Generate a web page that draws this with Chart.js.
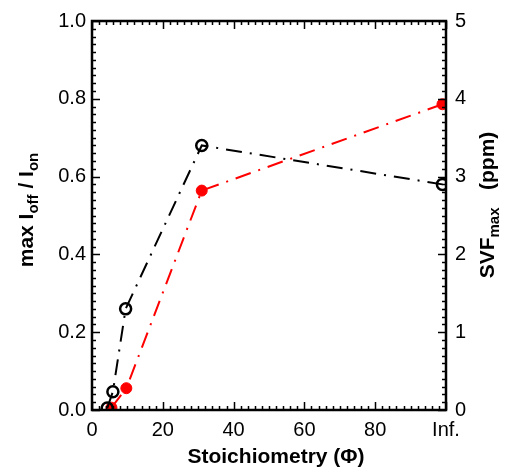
<!DOCTYPE html>
<html><head><meta charset="utf-8">
<script src="https://cdn.jsdelivr.net/npm/chart.js@4"></script>
<style>html,body{margin:0;padding:0;background:#fff}#wrap{width:507px;height:474px}</style>
</head><body><div id="wrap"><canvas id="c" width="507" height="474"></canvas></div>
<script>
const xTicks = [0, 20, 40, 60, 80, 100];
const xTickLabels = ['0', '20', '40', '60', '80', 'Inf.'];
const ratioX = [4.3, 5.9, 9.5, 31, 99];
const ratioY = [0.005, 0.047, 0.26, 0.68, 0.58];
const svfX = [5.5, 9.7, 31, 99];
const svfY = [0.03, 0.28, 2.82, 3.93];

const FONT = '"Liberation Sans", Arial, sans-serif';

const ticksPlugin = {
  id: 'inwardTicks',
  afterDraw(chart) {
    const ctx = chart.ctx, a = chart.chartArea;
    const xs = chart.scales.x, yl = chart.scales.y, yr = chart.scales.y2;
    ctx.save();
    ctx.strokeStyle = '#000';
    ctx.lineWidth = 1.5;
    for (let i = 0; i <= 50; i++) {
      const v = i * 2;
      const px = Math.round(xs.getPixelForValue(v)) + 0.5;
      const len = (i % 10 === 0) ? 8 : 4;
      ctx.beginPath();
      ctx.moveTo(px, a.bottom); ctx.lineTo(px, a.bottom - len);
      ctx.moveTo(px, a.top); ctx.lineTo(px, a.top + len);
      ctx.stroke();
    }
    for (let i = 0; i <= 50; i++) {
      const v = i * 0.02;
      const py = Math.round(yl.getPixelForValue(v)) + 0.5;
      const len = (i % 10 === 0) ? 8 : 4;
      ctx.beginPath(); ctx.moveTo(a.left, py); ctx.lineTo(a.left + len, py); ctx.stroke();
    }
    for (let i = 0; i <= 50; i++) {
      const v = i * 0.1;
      const py = Math.round(yr.getPixelForValue(v)) + 0.5;
      const len = (i % 10 === 0) ? 8 : 4;
      ctx.beginPath(); ctx.moveTo(a.right, py); ctx.lineTo(a.right - len, py); ctx.stroke();
    }
    ctx.lineWidth = 2.5;
    ctx.strokeRect(a.left, a.top, a.right - a.left, a.bottom - a.top);

    ctx.fillStyle = '#000';
    function drawParts(parts, cx, cy) {
      ctx.save();
      ctx.translate(cx, cy);
      ctx.rotate(-Math.PI / 2);
      const f = p => p.sub ? 'bold 15px ' + FONT : 'bold 21px ' + FONT;
      let w = 0;
      parts.forEach(p => { ctx.font = f(p); w += ctx.measureText(p.t).width; });
      let x = -w / 2;
      ctx.textBaseline = 'middle';
      parts.forEach(p => {
        ctx.font = f(p);
        ctx.fillText(p.t, x, p.sub ? 7 : 0);
        x += ctx.measureText(p.t).width;
      });
      ctx.restore();
    }
    drawParts([{t:'max I'},{t:'off',sub:true},{t:' / I'},{t:'on',sub:true}], 27, 210);
    drawParts([{t:'SVF'},{t:'max',sub:true},{t:'   (ppm)'}], 488, 205);
    ctx.font = 'bold 21px ' + FONT;
    ctx.textAlign = 'center'; ctx.textBaseline = 'middle';
    ctx.fillText('Stoichiometry (\u03A6)', (a.left + a.right) / 2 + 7, 457);
    ctx.restore();
  }
};

new Chart(document.getElementById('c'), {
  type: 'scatter',
  data: {
    datasets: [
      {
        label: 'ratio', yAxisID: 'y',
        data: ratioX.map((x, i) => ({x, y: ratioY[i]})),
        showLine: true, borderColor: '#000', borderWidth: 2,
        borderDash: [16, 8, 2, 8],
        pointRadius: 5.5, pointBorderWidth: 2.5, pointBackgroundColor: 'rgba(0,0,0,0)', pointBorderColor: '#000'
      },
      {
        label: 'svf', yAxisID: 'y2',
        data: svfX.map((x, i) => ({x, y: svfY[i]})),
        showLine: true, borderColor: '#ff0000', borderWidth: 2,
        borderDash: [16, 8, 2, 8],
        pointRadius: 5.5, pointBorderWidth: 1, pointBackgroundColor: '#ff0000', pointBorderColor: '#ff0000'
      }
    ]
  },
  plugins: [ticksPlugin],
  options: {
    responsive: false, animation: false,
    layout: { padding: { top: 20, left: 0, right: 0, bottom: 0 } },
    plugins: { legend: { display: false }, tooltip: { enabled: false } },
    scales: {
      x: {
        type: 'linear', min: 0, max: 100,
        afterFit(s) { s.height = 64; },
        afterBuildTicks(s) { s.ticks = xTicks.map(v => ({value: v})); },
        grid: { display: false, drawTicks: false }, border: { display: false },
        ticks: { color: '#000', padding: 8, font: { size: 20, family: FONT },
          callback: (v) => { const i = xTicks.indexOf(v); return i >= 0 ? xTickLabels[i] : ''; } }
      },
      y: {
        position: 'left', min: 0, max: 1,
        afterFit(s) { s.width = 92; },
        grid: { display: false, drawTicks: false }, border: { display: false },
        ticks: { stepSize: 0.2, color: '#000', padding: 6, font: { size: 20, family: FONT },
          callback: v => v.toFixed(1) }
      },
      y2: {
        position: 'right', min: 0, max: 5,
        afterFit(s) { s.width = 61; },
        grid: { display: false, drawTicks: false }, border: { display: false },
        ticks: { stepSize: 1, color: '#000', padding: 9, font: { size: 20, family: FONT },
          callback: v => String(v) }
      }
    }
  }
});
</script></body></html>
